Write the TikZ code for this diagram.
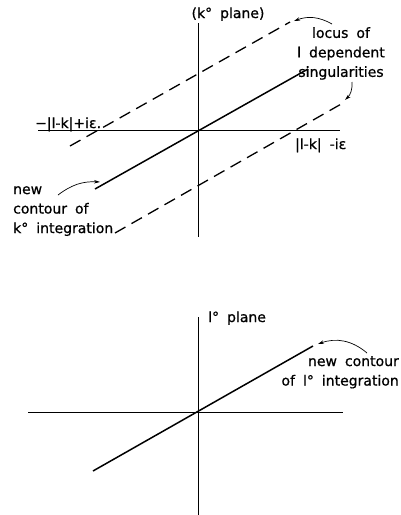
\documentclass[tikz,border=0pt]{standalone}
\usepackage{fontspec}
\setmainfont{DejaVu Sans}[WordSpace=1.8, FakeBold=0.8]
\usetikzlibrary{arrows.meta, positioning}

\begin{document}
\begin{tikzpicture}[x=1pt, y=-1pt,
    axis/.style={line width=0.8pt},
    contour/.style={line width=1.5pt},
    locus/.style={line width=1.3pt, dash pattern=on 12pt off 7pt},
    pointer/.style={line width=0.7pt, -{Stealth[length=6pt, width=3.5pt]}},
    note/.style={font=\fontsize{14}{19.5}\selectfont, inner sep=0pt}]
    \useasboundingbox (0,0) rectangle (401,515);

    % ===== TOP: k° plane =====
    \coordinate (kW) at (38,130);
    \coordinate (kE) at (340,130);
    \coordinate (kN) at (198,23);
    \coordinate (kS) at (198,237);
    \draw[axis] (kW) -- (kE);
    \draw[axis] (kN) -- (kS);

    % contour of k° integration
    \coordinate (kcA) at (95,189);
    \coordinate (kcB) at (308,69);
    \draw[contour] (kcA) -- (kcB);

    % loci of the singularities
    \coordinate (upA) at (70,146);
    \coordinate (upB) at (290,22);
    \coordinate (loA) at (115,233);
    \coordinate (loB) at (343,103);
    \draw[locus] (upA) -- (upB);
    \draw[locus] (loA) -- (loB);

    % labels
    \node[note, anchor=base] (kplane) at (228,18) {(k° plane)};
    \node[note, anchor=north, align=center] (locus) at (341,27)
        {locus of\\l dependent\\singularities};
    \node[note, anchor=base west] (minus) at (35,128) {−|l-k|+iε.};
    \node[note, anchor=base west] (plus) at (295,149) {|l-k| -iε};
    \node[note, anchor=north west, align=left] (newk) at (13,186)
        {new\\contour of\\k° integration};

    % pointers
    \coordinate (locusT) at (332,24);
    \coordinate (upTip) at (294,21);
    \coordinate (singB) at (352,82);
    \coordinate (loTip) at (345,100);
    \coordinate (newkR) at (58,195);
    \coordinate (kcTip) at (100,182);
    \draw[pointer] (locusT) to[bend right=25] (upTip);
    \draw[pointer] (singB) to[bend left=25] (loTip);
    \draw[pointer] (newkR) to[bend left=20] (kcTip);

    % ===== BOTTOM: l° plane =====
    \coordinate (lW) at (28,412);
    \coordinate (lE) at (343,412);
    \coordinate (lN) at (198,317);
    \coordinate (lS) at (198,515);
    \draw[axis] (lW) -- (lE);
    \draw[axis] (lN) -- (lS);

    % contour of l° integration
    \coordinate (lcA) at (93,471);
    \coordinate (lcB) at (313,346);
    \draw[contour] (lcA) -- (lcB);

    \node[note, anchor=base west] (lplane) at (208,322) {l° plane};
    \node[note, anchor=north east, align=right] (newl) at (399,356)
        {new contour\\of l° integration};

    \coordinate (newlT) at (367,353);
    \coordinate (lcTip) at (318,344);
    \draw[pointer] (newlT) to[bend right=30] (lcTip);
\end{tikzpicture}
\end{document}
